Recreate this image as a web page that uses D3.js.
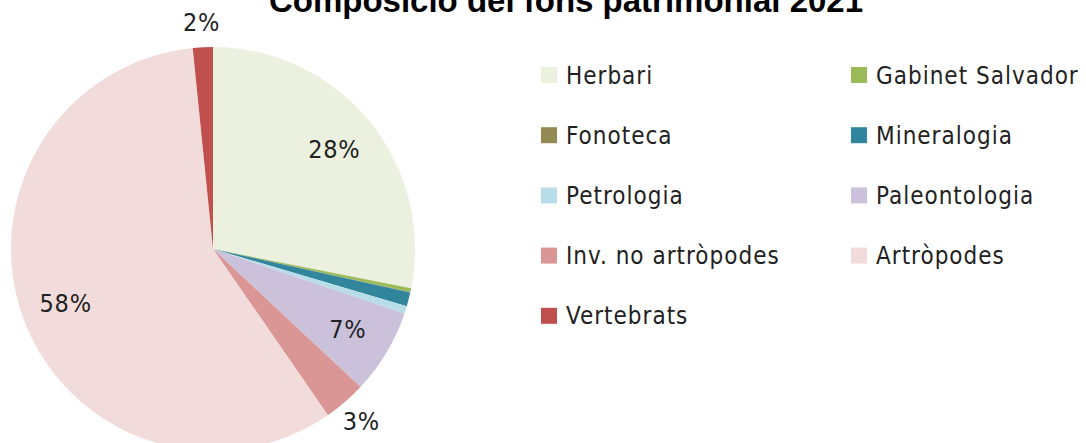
<!DOCTYPE html>
<html>
<head>
<meta charset="utf-8">
<script src="https://cdn.jsdelivr.net/npm/d3@7"></script>
<style>
  body { margin: 0; background: #fff; }
  svg { display: block; }
</style>
</head>
<body>
<div id="chart"></div>
<script>
var categories = ["Herbari", "Gabinet Salvador", "Fonoteca", "Mineralogia", "Petrologia",
                  "Paleontologia", "Inv. no artròpodes", "Artròpodes", "Vertebrats"];
var values = [28.1, 0.3, 0.05, 1.1, 0.6, 6.8, 3.4, 58.0, 1.6];
var colors = ["#EBF1DE", "#9BBB59", "#938953", "#31859C", "#B7DEE8",
              "#CCC1DA", "#D99694", "#F2DCDB", "#C0504D"];
var title = "Composició del fons patrimonial 2021";

var w = 1086, h = 443;
var cx = 213, cy = 249, r = 202;
var font = "'DejaVu Sans Condensed', 'DejaVu Sans', sans-serif";

var svg = d3.select("#chart")
    .append("svg")
    .attr("width", w)
    .attr("height", h);

var total = d3.sum(values);
var pie = d3.pie().sort(null).value(function(d) { return d; });
var arcs = pie(values);
var arc = d3.arc().innerRadius(0).outerRadius(r);

var g = svg.append("g").attr("transform", "translate(" + cx + "," + cy + ")");

g.selectAll("path")
    .data(arcs)
    .enter()
    .append("path")
    .attr("d", arc)
    .attr("fill", function(d, i) { return colors[i]; });

// labels: big slices inside, small ones just outside
var inArc = d3.arc().innerRadius(157).outerRadius(157);
var outArc = d3.arc().innerRadius(227).outerRadius(227);

g.selectAll("text.lbl")
    .data(arcs.filter(function(d) { return d.value / total >= 0.015; }))
    .enter()
    .append("text")
    .attr("class", "lbl")
    .attr("transform", function(d) {
        var p = (d.value / total > 0.05 ? inArc : outArc).centroid(d);
        return "translate(" + p[0] + "," + p[1] + ")";
    })
    .attr("dy", "0.36em")
    .attr("text-anchor", "middle")
    .attr("font-family", font)
    .attr("font-size", "25px")
    .attr("letter-spacing", "0.8px")
    .attr("fill", "#222")
    .text(function(d) { return Math.round(d.value / total * 100) + "%"; });

// legend, two columns
var legend = svg.selectAll("g.leg")
    .data(categories)
    .enter()
    .append("g")
    .attr("class", "leg")
    .attr("transform", function(d, i) {
        var x = i % 2 === 0 ? 541 : 851;
        var y = 75 + Math.floor(i / 2) * 60.2;
        return "translate(" + x + "," + y + ")";
    });

legend.append("rect")
    .attr("x", 0)
    .attr("y", -8)
    .attr("width", 16)
    .attr("height", 16)
    .attr("fill", function(d, i) { return colors[i]; });

legend.append("text")
    .attr("x", 25)
    .attr("y", 0)
    .attr("dy", "0.36em")
    .attr("font-family", font)
    .attr("font-size", "24px")
    .attr("letter-spacing", "1px")
    .attr("fill", "#222")
    .text(function(d) { return d; });

svg.append("text")
    .attr("x", 566)
    .attr("y", 12)
    .attr("text-anchor", "middle")
    .attr("font-family", "Liberation Sans")
    .attr("font-weight", "bold")
    .attr("font-size", "33px")
    .attr("fill", "#000")
    .text(title);
</script>
</body>
</html>
